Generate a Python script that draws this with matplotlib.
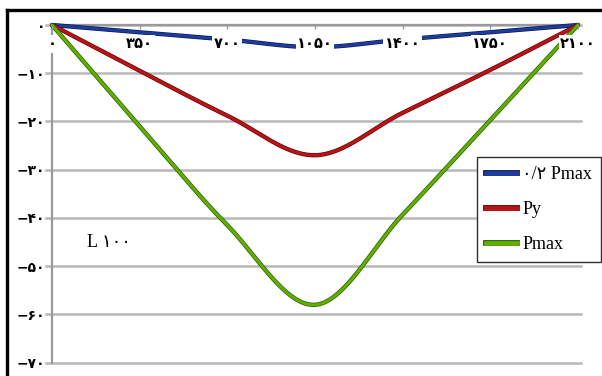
import numpy as np
import matplotlib
matplotlib.use("Agg")
import matplotlib.pyplot as plt
import matplotlib.patheffects as pe
from matplotlib.lines import Line2D

plt.rcParams['font.family'] = ['Liberation Serif', 'DejaVu Sans']

# Deflection along the span (mm) under three load levels
positions = [0, 350, 700, 1050, 1400, 1750, 2100]
series_names = ['۰/۲ Pmax', 'Py', 'Pmax']
defl_02pmax = [0.0, -1.5, -3.0, -4.6, -3.0, -1.5, 0.0]
defl_py = [0.0, -9.5, -18.8, -27.0, -18.2, -9.3, 0.0]
defl_pmax = [0.0, -21.0, -41.5, -58.0, -39.3, -19.7, 0.0]

x_tick_labels = ['۰', '۳۵۰', '۷۰۰', '۱۰۵۰', '۱۴۰۰', '۱۷۵۰', '۲۱۰۰']
y_ticks = [-70, -60, -50, -40, -30, -20, -10, 0]
y_tick_labels = ['−۷۰', '−۶۰', '−۵۰', '−۴۰', '−۳۰', '−۲۰', '−۱۰', '۰']
section_label = 'L ۱۰۰'

colors = ['#1c3c9e', '#b8141a', '#5fb000']
edge_colors = ['#0a1850', '#6a0000', '#2a5a00']


def smooth(xs, ys, n=40):
    """Catmull-Rom smoothing through the given points (spreadsheet-style smoothed line)."""
    p = np.column_stack([xs, ys]).astype(float)
    p = np.vstack([p[0], p, p[-1]])
    out = []
    for i in range(1, len(p) - 2):
        p0, p1, p2, p3 = p[i - 1], p[i], p[i + 1], p[i + 2]
        t = np.linspace(0, 1, n, endpoint=(i == len(p) - 3))[:, None]
        seg = 0.5 * ((2 * p1) + (-p0 + p2) * t
                     + (2 * p0 - 5 * p1 + 4 * p2 - p3) * t ** 2
                     + (-p0 + 3 * p1 - 3 * p2 + p3) * t ** 3)
        out.append(seg)
    out = np.vstack(out)
    return out[:, 0], out[:, 1]


fig = plt.figure(figsize=(6.02, 3.76), dpi=100)
W, H = 602, 376
ax = fig.add_axes([52 / W, 13.3 / H, 526 / W, 337.7 / H])

ax.set_xlim(0, 2100)
ax.set_ylim(-70, 0)

# horizontal gridlines, extending a little past the plot edges
for yv in y_ticks:
    ax.axhline(yv, xmin=-6 / 526, xmax=1 + 3 / 526, color='#b8b8b8', lw=1.8,
               zorder=1, clip_on=False)

handles = []
for ys, name, c, ec in zip([defl_02pmax, defl_py, defl_pmax], series_names,
                           colors, edge_colors):
    sx, sy = smooth(positions, ys)
    ax.plot(sx, sy, color=c, lw=2.1, solid_capstyle='round', zorder=2,
            path_effects=[pe.Stroke(linewidth=3.1, foreground=ec), pe.Normal()],
            clip_on=False)
    handles.append(Line2D([], [], color=c, lw=3.4,
                          path_effects=[pe.Stroke(linewidth=4.2, foreground=ec),
                                        pe.Normal()]))

ax.set_axisbelow(False)
for s in ['top', 'right']:
    ax.spines[s].set_visible(False)
ax.spines['bottom'].set_position(('data', 0))
ax.spines['bottom'].set_color('#9a9a9a')
ax.spines['bottom'].set_linewidth(1.6)
ax.spines['bottom'].set_zorder(1.2)
ax.spines['left'].set_color('#9a9a9a')
ax.spines['left'].set_linewidth(1.6)
ax.spines['left'].set_zorder(1.2)

ax.set_xticks(positions)
ax.set_xticklabels(x_tick_labels, fontsize=10.5, fontweight='bold',
                   family=['DejaVu Sans'])
ax.tick_params(axis='x', direction='out', length=3, width=1, color='#9a9a9a',
               pad=5)
for lbl in ax.get_xticklabels():
    lbl.set_bbox(dict(facecolor='white', edgecolor='none', pad=1.0))

ax.set_yticks(y_ticks)
ax.set_yticklabels(y_tick_labels, fontsize=10, fontweight='bold',
                   family=['DejaVu Sans'])
ax.tick_params(axis='y', length=0, pad=5)

ax.text(140, -45, section_label, fontsize=13, va='center', ha='left')

leg = ax.legend(handles, series_names, loc='upper left',
                bbox_to_anchor=(477 / W, 1 - 157 / H),
                bbox_transform=fig.transFigure, fontsize=13,
                frameon=True, fancybox=False, framealpha=1,
                edgecolor='#303030', borderpad=0.5, labelspacing=1.0,
                handlelength=1.7, handletextpad=0.3, borderaxespad=0)
leg.get_frame().set_linewidth(1.0)
leg.set_zorder(5)

# outer black frame (top and left edges)
fig.add_artist(Line2D([7 / W, 7 / W], [1 - 10 / H, 0], color='black', lw=2.4,
                      transform=fig.transFigure))
fig.add_artist(Line2D([7 / W, 1.0], [1 - 10 / H, 1 - 10 / H], color='black',
                      lw=2.4, transform=fig.transFigure))

fig.savefig('out.png', dpi=100)
